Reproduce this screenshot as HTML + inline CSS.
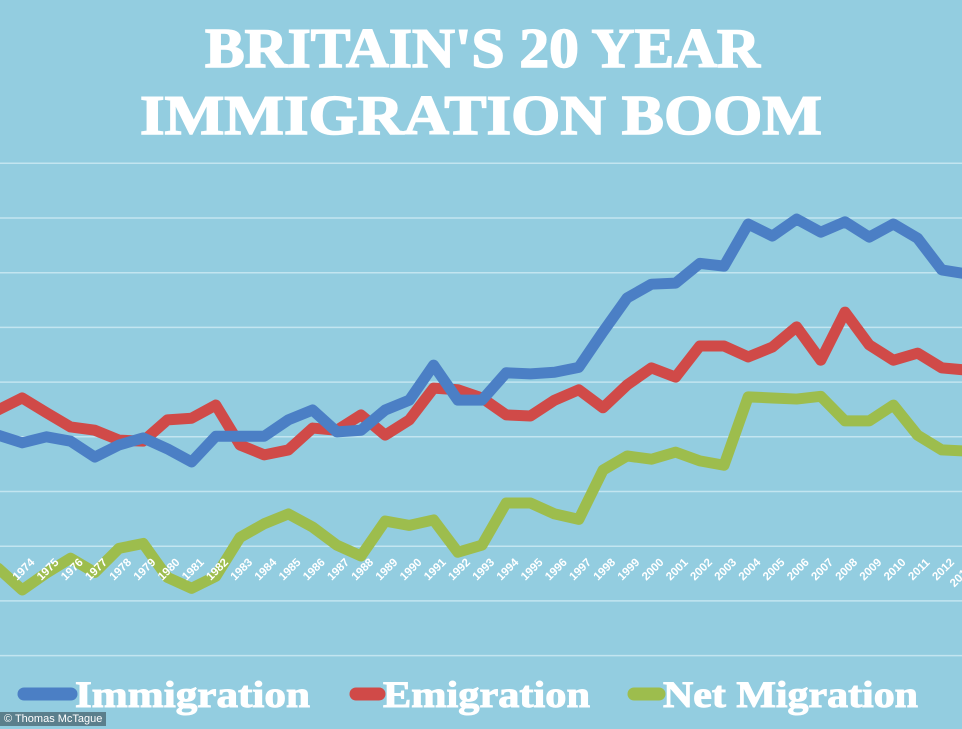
<!DOCTYPE html>
<html><head><meta charset="utf-8"><style>
html,body{margin:0;padding:0;}
body{width:962px;height:729px;overflow:hidden;background:#93cde0;font-family:"Liberation Serif",serif;position:relative;}
.credit{position:absolute;left:0;top:712px;background:#5b7f8c;color:#fff;font:11px "Liberation Sans",sans-serif;padding:1px 4px;}
</style></head><body>
<svg id="chart" width="962" height="729" style="position:absolute;left:0;top:0">
<text x="205" y="67" textLength="555" lengthAdjust="spacingAndGlyphs" fill="#fff" font-size="56" font-weight="bold" font-family="Liberation Serif, serif" stroke="#fff" stroke-width="1.5">BRITAIN'S 20 YEAR</text>
<text x="140" y="134" textLength="682" lengthAdjust="spacingAndGlyphs" fill="#fff" font-size="56" font-weight="bold" font-family="Liberation Serif, serif" stroke="#fff" stroke-width="1.5">IMMIGRATION BOOM</text>
</svg>
<div class="credit">© Thomas McTague</div>
<script>
const years=[1973,1974,1975,1976,1977,1978,1979,1980,1981,1982,1983,1984,1985,1986,1987,1988,1989,1990,1991,1992,1993,1994,1995,1996,1997,1998,1999,2000,2001,2002,2003,2004,2005,2006,2007,2008,2009,2010,2011,2012,2013];
const immigration=[203,189,200,192,163,185,198,178,154,201,201,201,231,249,209,212,249,267,331,267,267,317,315,318,327,392,454,479,481,517,512,589,567,598,574,593,565,589,563,505,498];
const emigration=[249,271,244,218,212,194,192,231,234,258,185,167,176,216,212,240,203,231,289,286,271,240,238,267,286,253,295,326,309,366,366,346,364,401,340,428,368,340,353,326,322];
const netMigration=[-40,-80,-49,-22,-48,-4,5,-57,-77,-55,16,41,59,35,2,-18,46,38,48,-11,2,79,79,59,49,139,165,159,172,156,148,273,271,269,274,229,229,258,203,176,174];
const gridValues=[-200,-100,0,100,200,300,400,500,600,700];
const xLabels=["1974","1975","1976","1977","1978","1979","1980","1981","1982","1983","1984","1985","1986","1987","1988","1989","1990","1991","1992","1993","1994","1995","1996","1997","1998","1999","2000","2001","2002","2003","2004","2005","2006","2007","2008","2009","2010","2011","2012","2013 Q1"];
const NS='http://www.w3.org/2000/svg';
const svg=document.getElementById('chart');
const x=y=>-2+(y-1973)*24.2;
const yv=v=>218+(600-v)*0.547;
function mk(t,a,first){const e=document.createElementNS(NS,t);for(const k in a)e.setAttribute(k,a[k]);if(first)svg.insertBefore(e,svg.firstChild);else svg.appendChild(e);return e;}
gridValues.forEach(g=>{
  const l=mk('line',{x1:0,x2:962,y1:yv(g),y2:yv(g),stroke:'#c3e5f0','stroke-width':1.5},true);
  
  
});
function series(vals,color,name){
  const p=mk('polyline',{points:vals.map((v,i)=>x(years[i])+','+yv(v)).join(' '),fill:'none',stroke:color,'stroke-width':11,'stroke-linejoin':'round','stroke-linecap':'round'});
  
  
}
series(netMigration,'#9dbd4d','net-migration-line');
series(emigration,'#d04a48','emigration-line');
series(immigration,'#4b7fc5','immigration-line');
xLabels.forEach(s=>{
  const yr=parseInt(s);const cx=x(yr)+4,cy=572;
  const t=mk('text',{x:cx,y:cy,fill:'#fff','font-size':11.5,'font-weight':'bold','font-family':'Liberation Sans, sans-serif','text-anchor':'middle',transform:`rotate(-45 ${cx} ${cy})`});
  t.textContent=s;
  
  
});
const legend=[['Immigration','#4b7fc5',18,75,235],['Emigration','#d04a48',350,383,207],['Net Migration','#9dbd4d',628,663,255]];
legend.forEach(([n,c,lx,tx,tw])=>{
  const l=mk('line',{x1:lx+6,x2:tx-4,y1:694,y2:694,stroke:c,'stroke-width':13,'stroke-linecap':'round'});
  
  
  const t=mk('text',{x:tx,y:707,fill:'#fff','font-size':37,'font-weight':'bold','font-family':'Liberation Serif, serif',textLength:tw,lengthAdjust:'spacingAndGlyphs',stroke:'#fff','stroke-width':1});
  t.textContent=n;
  
  
});
</script>
</body></html>
